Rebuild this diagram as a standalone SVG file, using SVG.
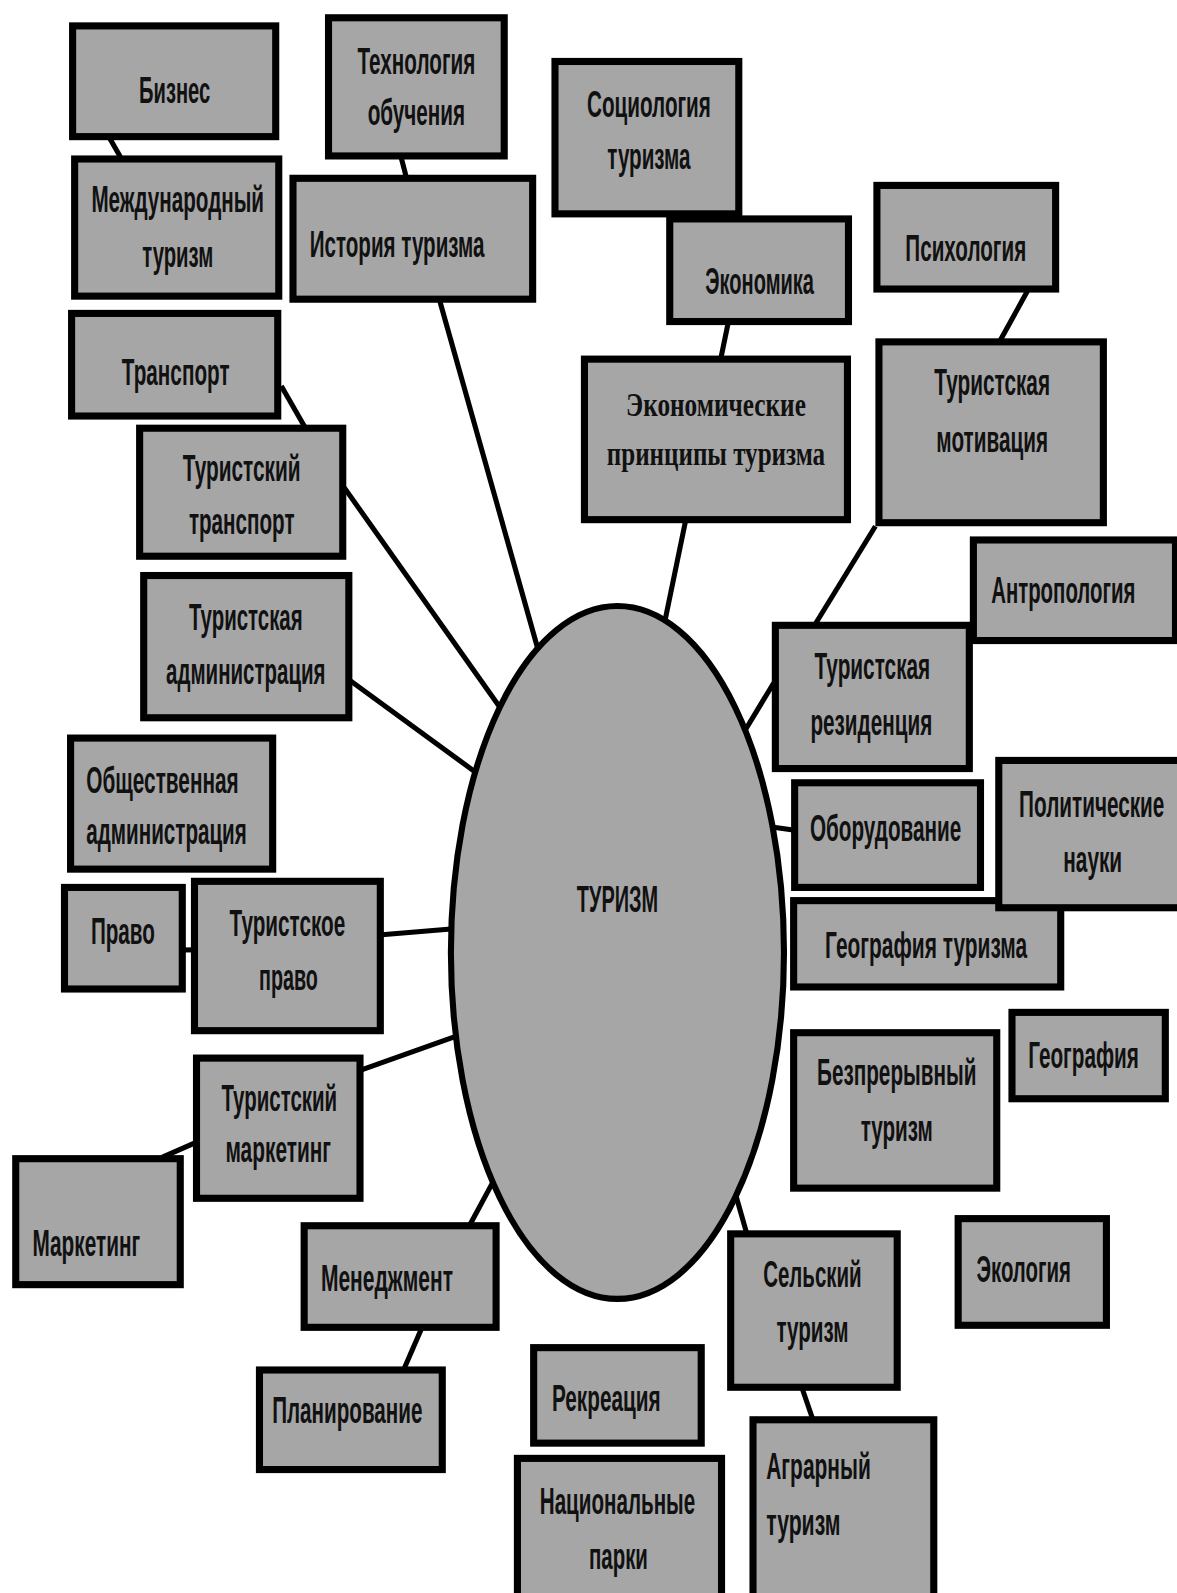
<svg xmlns="http://www.w3.org/2000/svg" width="1177" height="1593" viewBox="0 0 1177 1593">
<style>
.b{fill:#a6a6a6;stroke:#000;stroke-width:7}
.t{font-family:"Liberation Sans",Arial,sans-serif;font-weight:bold;font-size:36px;fill:#111;text-anchor:middle}
.s{font-family:"Liberation Serif","Times New Roman",serif;font-weight:bold;font-size:34px;fill:#111;text-anchor:middle}
.c{stroke:#000;stroke-width:5;fill:none}
</style>
<rect width="1177" height="1593" fill="#fff"/>
<g transform="scale(1.01553,1.01594)">
<g id="connectors">
<line class="c" x1="108" y1="136" x2="120" y2="157"/>
<line class="c" x1="395" y1="155" x2="400" y2="174"/>
<line class="c" x1="433" y1="296" x2="530" y2="640"/>
<line class="c" x1="277" y1="380" x2="300" y2="420"/>
<line class="c" x1="339" y1="480" x2="495" y2="700"/>
<line class="c" x1="345" y1="670" x2="475" y2="765"/>
<line class="c" x1="376" y1="920" x2="450" y2="914"/>
<line class="c" x1="181" y1="935" x2="190" y2="935"/>
<line class="c" x1="356" y1="1053" x2="455" y2="1018"/>
<line class="c" x1="160" y1="1139" x2="192" y2="1125"/>
<line class="c" x1="463" y1="1205" x2="490" y2="1155"/>
<line class="c" x1="398" y1="1347" x2="415" y2="1308"/>
<line class="c" x1="735" y1="1213" x2="725" y2="1178"/>
<line class="c" x1="790" y1="1367" x2="800" y2="1396"/>
<line class="c" x1="675" y1="513" x2="655" y2="610"/>
<line class="c" x1="717" y1="318" x2="710" y2="352"/>
<line class="c" x1="1012" y1="286" x2="985" y2="335"/>
<line class="c" x1="862" y1="518" x2="803" y2="614"/>
<line class="c" x1="762" y1="672" x2="730" y2="725"/>
<line class="c" x1="781" y1="817" x2="760" y2="814"/>
</g>
<g id="n-biznes"><rect class="b" x="71.5" y="25.5" width="200" height="109"/><text class="t" transform="translate(172 101) scale(0.6 1)" textLength="116.7" lengthAdjust="spacingAndGlyphs">Бизнес</text></g>
<g id="n-tehnologia"><rect class="b" x="323.5" y="17.5" width="173" height="136"/><text class="t" transform="translate(410 73) scale(0.6 1)" textLength="193.3" lengthAdjust="spacingAndGlyphs">Технология</text><text class="t" transform="translate(410 123) scale(0.6 1)" textLength="160" lengthAdjust="spacingAndGlyphs">обучения</text></g>
<g id="n-mezhd"><rect class="b" x="73.5" y="156.5" width="201" height="135"/><text class="t" transform="translate(175 209) scale(0.6 1)" textLength="283.3" lengthAdjust="spacingAndGlyphs">Международный</text><text class="t" transform="translate(175 263) scale(0.6 1)" textLength="116.7" lengthAdjust="spacingAndGlyphs">туризм</text></g>
<g id="n-istoria"><rect class="b" x="288.5" y="175.5" width="236" height="119"/><text class="t" transform="translate(391 253) scale(0.6 1)" textLength="286.7" lengthAdjust="spacingAndGlyphs">История туризма</text></g>
<g id="n-transport"><rect class="b" x="70.5" y="308.5" width="203" height="101"/><text class="t" transform="translate(173 379) scale(0.6 1)" textLength="176.7" lengthAdjust="spacingAndGlyphs">Транспорт</text></g>
<g id="n-tur-transport"><rect class="b" x="137.5" y="421.5" width="200" height="126"/><text class="t" transform="translate(238 473) scale(0.6 1)" textLength="193.3" lengthAdjust="spacingAndGlyphs">Туристский</text><text class="t" transform="translate(238 526) scale(0.6 1)" textLength="173.3" lengthAdjust="spacingAndGlyphs">транспорт</text></g>
<g id="n-tur-admin"><rect class="b" x="141.5" y="566.5" width="202" height="140"/><text class="t" transform="translate(242 620) scale(0.6 1)" textLength="186.7" lengthAdjust="spacingAndGlyphs">Туристская</text><text class="t" transform="translate(242 673) scale(0.6 1)" textLength="261.7" lengthAdjust="spacingAndGlyphs">администрация</text></g>
<g id="n-obsch-admin"><rect class="b" x="69.5" y="726.5" width="199" height="129"/><text class="t" transform="translate(160 781) scale(0.6 1)" textLength="250" lengthAdjust="spacingAndGlyphs">Общественная</text><text class="t" transform="translate(164 831) scale(0.6 1)" textLength="263.3" lengthAdjust="spacingAndGlyphs">администрация</text></g>
<g id="n-pravo"><rect class="b" x="63.5" y="873.5" width="116" height="100"/><text class="t" transform="translate(121 929) scale(0.6 1)" textLength="105" lengthAdjust="spacingAndGlyphs">Право</text></g>
<g id="n-tur-pravo"><rect class="b" x="191.5" y="867.5" width="183" height="147"/><text class="t" transform="translate(283 921) scale(0.6 1)" textLength="190" lengthAdjust="spacingAndGlyphs">Туристское</text><text class="t" transform="translate(284 974) scale(0.6 1)" textLength="96.7" lengthAdjust="spacingAndGlyphs">право</text></g>
<g id="n-tur-marketing"><rect class="b" x="193.5" y="1041.5" width="161" height="138"/><text class="t" transform="translate(275 1094) scale(0.6 1)" textLength="190" lengthAdjust="spacingAndGlyphs">Туристский</text><text class="t" transform="translate(274 1144) scale(0.6 1)" textLength="173.3" lengthAdjust="spacingAndGlyphs">маркетинг</text></g>
<g id="n-marketing"><rect class="b" x="15.5" y="1140.5" width="162" height="124"/><text class="t" transform="translate(85 1236) scale(0.6 1)" textLength="176.7" lengthAdjust="spacingAndGlyphs">Маркетинг</text></g>
<g id="n-menedzhment"><rect class="b" x="299.5" y="1206.5" width="189" height="100"/><text class="t" transform="translate(381 1271) scale(0.6 1)" textLength="216.7" lengthAdjust="spacingAndGlyphs">Менеджмент</text></g>
<g id="n-planirovanie"><rect class="b" x="255.5" y="1348.5" width="180" height="98"/><text class="t" transform="translate(342 1401) scale(0.6 1)" textLength="246.7" lengthAdjust="spacingAndGlyphs">Планирование</text></g>
<g id="n-rekreatsia"><rect class="b" x="525.5" y="1326.5" width="165" height="94"/><text class="t" transform="translate(597 1389) scale(0.6 1)" textLength="178.3" lengthAdjust="spacingAndGlyphs">Рекреация</text></g>
<g id="n-nats-parki"><rect class="b" x="509.5" y="1435.5" width="201" height="160"/><text class="t" transform="translate(608 1490) scale(0.6 1)" textLength="255" lengthAdjust="spacingAndGlyphs">Национальные</text><text class="t" transform="translate(609 1544) scale(0.6 1)" textLength="96.7" lengthAdjust="spacingAndGlyphs">парки</text></g>
<g id="n-selskiy"><rect class="b" x="719.5" y="1214.5" width="164" height="151"/><text class="t" transform="translate(800 1267) scale(0.6 1)" textLength="161.7" lengthAdjust="spacingAndGlyphs">Сельский</text><text class="t" transform="translate(800 1321) scale(0.6 1)" textLength="118.3" lengthAdjust="spacingAndGlyphs">туризм</text></g>
<g id="n-agrarniy"><rect class="b" x="741.5" y="1397.5" width="178" height="200"/><text class="t" transform="translate(806 1456) scale(0.6 1)" textLength="171.7" lengthAdjust="spacingAndGlyphs">Аграрный</text><text class="t" transform="translate(791 1511) scale(0.6 1)" textLength="121.7" lengthAdjust="spacingAndGlyphs">туризм</text></g>
<g id="n-ekologia"><rect class="b" x="943.5" y="1199.5" width="146" height="105"/><text class="t" transform="translate(1008 1262) scale(0.6 1)" textLength="155" lengthAdjust="spacingAndGlyphs">Экология</text></g>
<g id="n-bezpreryvniy"><rect class="b" x="781.5" y="1016.5" width="200" height="153"/><text class="t" transform="translate(883 1068) scale(0.6 1)" textLength="261.7" lengthAdjust="spacingAndGlyphs">Безпрерывный</text><text class="t" transform="translate(883 1123) scale(0.6 1)" textLength="118.3" lengthAdjust="spacingAndGlyphs">туризм</text></g>
<g id="n-geografia"><rect class="b" x="996.5" y="996.5" width="151" height="85"/><text class="t" transform="translate(1067 1051) scale(0.6 1)" textLength="181.7" lengthAdjust="spacingAndGlyphs">География</text></g>
<g id="n-geo-turizma"><rect class="b" x="781.5" y="886.5" width="263" height="85"/><text class="t" transform="translate(912 943) scale(0.6 1)" textLength="331.7" lengthAdjust="spacingAndGlyphs">География туризма</text></g>
<g id="n-polit"><rect class="b" x="983.5" y="748.5" width="190" height="145"/><text class="t" transform="translate(1075 804) scale(0.6 1)" textLength="238.3" lengthAdjust="spacingAndGlyphs">Политические</text><text class="t" transform="translate(1076 858) scale(0.6 1)" textLength="96.7" lengthAdjust="spacingAndGlyphs">науки</text></g>
<g id="n-oborudovanie"><rect class="b" x="782.5" y="770.5" width="183" height="103"/><text class="t" transform="translate(872 828) scale(0.6 1)" textLength="248.3" lengthAdjust="spacingAndGlyphs">Оборудование</text></g>
<g id="n-rezidentsia"><rect class="b" x="763.5" y="615.5" width="191" height="141"/><text class="t" transform="translate(859 668) scale(0.6 1)" textLength="190" lengthAdjust="spacingAndGlyphs">Туристская</text><text class="t" transform="translate(858 723) scale(0.6 1)" textLength="200" lengthAdjust="spacingAndGlyphs">резиденция</text></g>
<g id="n-antropologia"><rect class="b" x="958.5" y="531.5" width="199" height="99"/><text class="t" transform="translate(1047 594) scale(0.6 1)" textLength="236.7" lengthAdjust="spacingAndGlyphs">Антропология</text></g>
<g id="n-motivatsia"><rect class="b" x="865.5" y="336.5" width="221" height="178"/><text class="t" transform="translate(977 389) scale(0.6 1)" textLength="190" lengthAdjust="spacingAndGlyphs">Туристская</text><text class="t" transform="translate(977 445) scale(0.6 1)" textLength="183.3" lengthAdjust="spacingAndGlyphs">мотивация</text></g>
<g id="n-psihologia"><rect class="b" x="863.5" y="182.5" width="176" height="102"/><text class="t" transform="translate(951 257) scale(0.6 1)" textLength="198.3" lengthAdjust="spacingAndGlyphs">Психология</text></g>
<g id="n-ekon-printsipy"><rect class="b" x="575.5" y="353.5" width="259" height="158"/><text class="s" transform="translate(705 409) scale(0.8 1)" textLength="221.3" lengthAdjust="spacingAndGlyphs">Экономические</text><text class="s" transform="translate(705 458) scale(0.8 1)" textLength="268.8" lengthAdjust="spacingAndGlyphs">принципы туризма</text></g>
<g id="n-ekonomika"><rect class="b" x="659.5" y="215.5" width="176" height="101"/><text class="t" transform="translate(748 289) scale(0.6 1)" textLength="178.3" lengthAdjust="spacingAndGlyphs">Экономика</text></g>
<g id="n-sotsiologia"><rect class="b" x="546.5" y="60.5" width="181" height="150"/><text class="t" transform="translate(639 115) scale(0.6 1)" textLength="203.3" lengthAdjust="spacingAndGlyphs">Социология</text><text class="t" transform="translate(639 166) scale(0.6 1)" textLength="136.7" lengthAdjust="spacingAndGlyphs">туризма</text></g>
<g id="n-turizm"><ellipse cx="608" cy="937.5" rx="164" ry="341" fill="#a6a6a6" stroke="#000" stroke-width="6"/><text class="t" transform="translate(608 898) scale(0.6 1)" textLength="133.3" lengthAdjust="spacingAndGlyphs">ТУРИЗМ</text></g>
</g>
</svg>
